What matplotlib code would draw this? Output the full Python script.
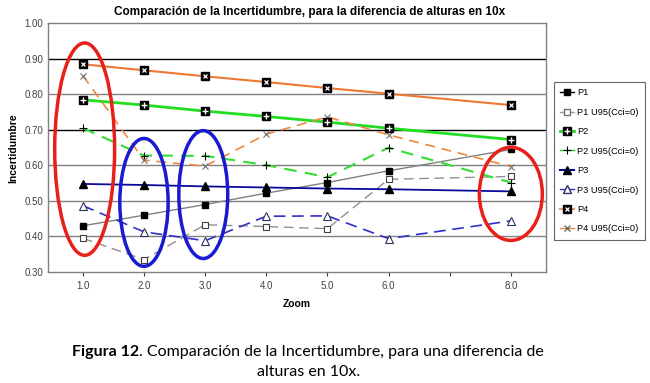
import matplotlib
matplotlib.use("Agg")
import matplotlib.pyplot as plt
from matplotlib.patches import Ellipse
from matplotlib.lines import Line2D

zoom = [1, 2, 3, 4, 5, 6, 8]

p1 = [0.430, 0.460, 0.490, 0.522, 0.552, 0.585, 0.645]
p1_u95 = [0.395, 0.335, 0.433, 0.428, 0.422, 0.561, 0.569]
p2 = [0.785, 0.770, 0.753, 0.738, 0.722, 0.705, 0.673]
p2_u95 = [0.705, 0.628, 0.627, 0.601, 0.567, 0.650, 0.552]
p3 = [0.548, 0.545, 0.541, 0.538, 0.535, 0.533, 0.527]
p3_u95 = [0.487, 0.413, 0.388, 0.457, 0.458, 0.394, 0.444]
p4 = [0.885, 0.868, 0.851, 0.835, 0.818, 0.802, 0.770]
p4_u95 = [0.853, 0.615, 0.598, 0.688, 0.737, 0.686, 0.597]

y_ticks = [0.30, 0.40, 0.50, 0.60, 0.70, 0.80, 0.90, 1.00]
x_ticks = [1, 2, 3, 4, 5, 6, 7, 8]
x_labels = ["1.0", "2.0", "3.0", "4.0", "5.0", "6.0", "", "8.0"]

# highlighted regions: (x, y, width, height, colour)
marks = [
    (1.03, 0.646, 0.98, 0.598, "#e8201a"),
    (2.00, 0.496, 0.79, 0.360, "#1a1ad0"),
    (2.97, 0.518, 0.80, 0.360, "#1a1ad0"),
    (8.00, 0.520, 1.03, 0.262, "#e8201a"),
]

plt.rcParams['font.family'] = ['Liberation Sans', 'DejaVu Sans']

fig = plt.figure(figsize=(6.5, 3.83), dpi=100)
ax = fig.add_axes([0.0738, 0.2898, 0.7657, 0.6491])

ax.set_xlim(0.43, 8.57)
ax.set_ylim(0.30, 1.00)

for v in [0.4, 0.5, 0.6, 0.8]:
    ax.axhline(v, color="#808080", lw=1.0, zorder=0)
for v in [0.7, 0.9]:
    ax.axhline(v, color="black", lw=1.0, zorder=0)

ax.plot(zoom, p1, color="#808080", lw=1.0, marker="s", ms=4,
        mfc="black", mec="black", zorder=3)
ax.plot(zoom, p1_u95, color="#909090", lw=1.0, ls=(0, (7, 4)), marker="s", ms=5,
        mfc="white", mec="#404040", mew=0.8, zorder=3)

ax.plot(zoom, p2, color="#22dd22", lw=2.0, zorder=3)
p2_a, = ax.plot(zoom, p2, ls="none", marker="s", ms=5.5, mfc="black", mec="black", zorder=4)
p2_b, = ax.plot(zoom, p2, ls="none", marker="+", ms=4, mec="white", mew=1.0, zorder=5)
ax.plot(zoom, p2_u95, color="#33dd33", lw=1.5, ls=(0, (6, 4)), marker="+", ms=6,
        mec="black", mew=0.8, zorder=3)

ax.plot(zoom, p3, color="#0a0a9a", lw=1.3, marker="^", ms=5.5,
        mfc="black", mec="black", zorder=3)
ax.plot(zoom, p3_u95, color="#3030c8", lw=1.2, ls=(0, (7, 4)), marker="^", ms=6,
        mfc="white", mec="#303060", mew=0.8, zorder=3)

ax.plot(zoom, p4, color="#ee7733", lw=1.5, zorder=3)
p4_a, = ax.plot(zoom, p4, ls="none", marker="s", ms=5.5, mfc="black", mec="black", zorder=4)
p4_b, = ax.plot(zoom, p4, ls="none", marker="x", ms=3.5, mec="white", mew=0.9, zorder=5)
ax.plot(zoom, p4_u95, color="#ee8844", lw=1.2, ls=(0, (6, 4)), marker="x", ms=4,
        mec="#707070", mew=0.8, zorder=3)

for x, y, w, h, c in marks:
    ax.add_patch(Ellipse((x, y), w, h, fill=False, edgecolor=c, lw=2.5, zorder=6))

ax.set_xticks(x_ticks)
ax.set_xticklabels(x_labels)
ax.set_yticks(y_ticks)
ax.set_yticklabels([f"{v:.2f}" for v in y_ticks])
ax.tick_params(axis="both", labelsize=7, colors="#404040", length=3, width=0.8)
ax.tick_params(axis="y", length=0)
for s in ax.spines.values():
    s.set_color("#808080")
    s.set_linewidth(1.0)

fig.text(0.477, 0.968, "Comparación de la Incertidumbre, para la diferencia de alturas en 10x",
         fontsize=8.5, fontweight="bold", ha="center", va="center")
ax.set_xlabel("Zoom", fontsize=7.5, fontweight="bold", labelpad=6)
ax.set_ylabel("Incertidumbre", fontsize=7.5, fontweight="bold", labelpad=4)

# legend
h_p1 = Line2D([], [], color="black", lw=1.0, marker="s", ms=4, mfc="black")
h_p1u = Line2D([], [], color="#a0a0a0", lw=1.0, marker="s", ms=5, mfc="white", mec="#707070")
h_p2 = Line2D([], [], color="#22dd22", lw=2.0)
h_p2u = Line2D([], [], color="#22cc22", lw=1.0, marker="+", ms=6, mec="black", mew=0.8)
h_p3 = Line2D([], [], color="#0a0a9a", lw=1.5, marker="^", ms=5.5, mfc="black", mec="black")
h_p3u = Line2D([], [], color="#3030c8", lw=1.0, marker="^", ms=5.5, mfc="white", mec="#303060")
h_p4 = Line2D([], [], color="#ee9966", lw=1.5)
h_p4u = Line2D([], [], color="#ee8844", lw=1.0, marker="x", ms=4, mec="#707070")
handles = [h_p1, h_p1u, (h_p2, p2_a, p2_b), h_p2u, h_p3, h_p3u, (h_p4, p4_a, p4_b), h_p4u]
labels = ["P1", "P1 U95(Cci=0)", "P2", "P2 U95(Cci=0)", "P3", "P3 U95(Cci=0)",
          "P4", "P4 U95(Cci=0)"]
leg = fig.legend(handles, labels, loc="upper left", bbox_to_anchor=(0.852, 0.786),
                 fontsize=6.7, frameon=True, fancybox=False, edgecolor="#404040",
                 handlelength=1.5, handletextpad=0.3, labelspacing=1.12,
                 borderpad=0.7, borderaxespad=0)
leg.get_frame().set_linewidth(0.8)

# caption: bold "Figura 12" followed by regular text, centred as one line
cap_font = ["Lato", "DejaVu Sans"]
cap_size = 11.5
renderer = fig.canvas.get_renderer()
t_bold = fig.text(0, 0.081, "Figura 12", fontsize=cap_size, fontweight="bold",
                  family=cap_font, va="center")
t_rest = fig.text(0, 0.081, ". Comparación de la Incertidumbre, para una diferencia de",
                  fontsize=cap_size, family=cap_font, va="center")
wb = t_bold.get_window_extent(renderer).width / fig.bbox.width
wr = t_rest.get_window_extent(renderer).width / fig.bbox.width
x0 = 0.474 - (wb + wr) / 2
t_bold.set_x(x0)
t_rest.set_x(x0 + wb)
fig.text(0.474, 0.029, "alturas en 10x.", fontsize=cap_size, ha="center", va="center",
         family=cap_font)

fig.savefig("out.png", dpi=100)
